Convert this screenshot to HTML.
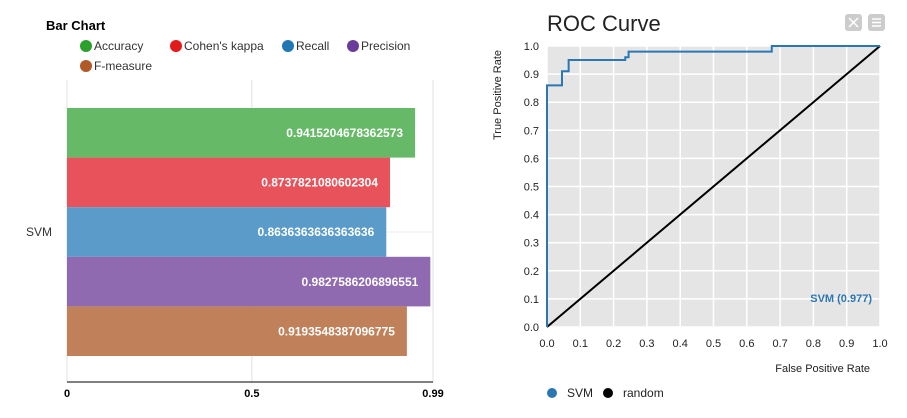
<!DOCTYPE html>
<html><head><style>
body{margin:0;width:907px;height:413px;background:#fff;font-family:"Liberation Sans",sans-serif;overflow:hidden}
</style></head><body>
<svg width="907" height="413" xmlns="http://www.w3.org/2000/svg" font-family="Liberation Sans, sans-serif">
<g id="bar">
<text x="46" y="30" font-size="13" font-weight="bold">Bar Chart</text>
<g id="legend" font-size="12" fill="#333"></g>
<g id="bars"></g>
</g>
<g id="roc">
<text x="547" y="31" font-size="22" fill="#222">ROC Curve</text>
<rect x="845" y="14" width="17" height="17" rx="3" fill="#ccc"/>
<rect x="868" y="14" width="17" height="17" rx="3" fill="#ccc"/>
<path d="M872 19h9M872 22.5h9M872 26h9" stroke="#fff" stroke-width="1.5"/>
<path d="M849 18l9 9M858 18l-9 9" stroke="#fff" stroke-width="1.5"/>
<g id="rocg"></g>
</g>
</svg>
<script>
const metrics=["Accuracy","Cohen's kappa","Recall","Precision","F-measure"];
const metricValues=[0.9415204678362573,0.8737821080602304,0.8636363636363636,0.9827586206896551,0.9193548387096775];
const metricColors=["#66b966","#e8525a","#5a9bc9","#8f6ab1","#c0805a"];
const legendColors=["#2ca02c","#e31a1c","#1f78b4","#6a3d9a","#b15928"];
const xTicks=[0,0.5,0.99];
const rocFPR=[0,0,0.045,0.045,0.065,0.065,0.235,0.235,0.245,0.245,0.675,0.675,1];
const rocTPR=[0,0.86,0.86,0.91,0.91,0.95,0.95,0.96,0.96,0.98,0.98,1,1];
const rocTicks=[0,0.1,0.2,0.3,0.4,0.5,0.6,0.7,0.8,0.9,1];
const NS="http://www.w3.org/2000/svg";
function mk(p,t,a,txt){const e=document.createElementNS(NS,t);for(const k in a)e.setAttribute(k,a[k]);if(txt!==undefined)e.textContent=txt;p.appendChild(e);return e;}
// bar chart
const bx=v=>67+v*(433-67)/0.99;
const bg=document.getElementById('bars'),lg=document.getElementById('legend');
const lpos=[[86,46],[176,46],[288,46],[353,46],[86,66]];
metrics.forEach((m,i)=>{
 const c=mk(lg,'circle',{cx:lpos[i][0],cy:lpos[i][1],r:6,fill:legendColors[i]});
 
 
 const t=mk(lg,'text',{x:lpos[i][0]+8,y:lpos[i][1]+4},m);
 
 
});
xTicks.forEach(v=>{
 mk(bg,'line',{x1:bx(v),x2:bx(v),y1:80,y2:382,stroke:'#e0e0e0'});
 const t=mk(bg,'text',{x:bx(v),y:397,'font-size':11,'font-weight':'bold','text-anchor':'middle'},String(v));
 
 
});
mk(bg,'line',{x1:67,x2:433,y1:232,y2:232,stroke:'#eee'});
mk(bg,'line',{x1:67,x2:433,y1:382,y2:382,stroke:'#000'});
const yl=mk(bg,'text',{x:26,y:236,'font-size':12,fill:'#333'},'SVM');


metricValues.forEach((v,i)=>{
 const y=108+i*49.6;
 const r=mk(bg,'rect',{x:67,y:y,width:bx(v)-67,height:49.6,fill:metricColors[i]});
 
 
 const t=mk(bg,'text',{x:bx(v)-12,y:y+29,'font-size':12,'font-weight':'bold',fill:'#fff','text-anchor':'end'},String(v));
 
 
});
// ROC
const rx=v=>547+v*333, ry=v=>327-v*281;
const rg=document.getElementById('rocg');
mk(rg,'rect',{x:547,y:46,width:333,height:281,fill:'#e5e5e5'});
rocTicks.forEach(v=>{
 mk(rg,'line',{x1:rx(v),x2:rx(v),y1:46,y2:327,stroke:'#fff','stroke-width':1.5});
 mk(rg,'line',{x1:547,x2:880,y1:ry(v),y2:ry(v),stroke:'#fff','stroke-width':1.5});
 const a=mk(rg,'text',{x:rx(v),y:347,'font-size':11,'text-anchor':'middle',fill:'#222'},v.toFixed(1));
 
 
 const b=mk(rg,'text',{x:539,y:ry(v)+4,'font-size':11,'text-anchor':'end',fill:'#222'},v.toFixed(1));
 
 
});
const rl=mk(rg,'line',{x1:rx(0),y1:ry(0),x2:rx(1),y2:ry(1),stroke:'#000','stroke-width':2});


const pl=mk(rg,'polyline',{points:rocFPR.map((f,i)=>rx(f)+','+ry(rocTPR[i])).join(' '),fill:'none',stroke:'#2a77b4','stroke-width':2});


const sl=mk(rg,'text',{x:872,y:302,'font-size':11,'font-weight':'bold',fill:'#2a77b4','text-anchor':'end'},'SVM (0.977)');


const xt=mk(rg,'text',{x:870,y:372,'font-size':11,'text-anchor':'end',fill:'#222'},'False Positive Rate');


const yt=mk(rg,'text',{x:0,y:0,'font-size':11,'text-anchor':'middle',fill:'#222',transform:'translate(501,95) rotate(-90)'},'True Positive Rate');


[['SVM','#2a77b4',552],['random','#000',608]].forEach(([n,c,x])=>{
 const d=mk(rg,'circle',{cx:x,cy:393,r:5,fill:c});
 
 
 const t=mk(rg,'text',{x:x+15,y:397,'font-size':12,fill:'#222'},n);
 
 
});
</script>
</body></html>
